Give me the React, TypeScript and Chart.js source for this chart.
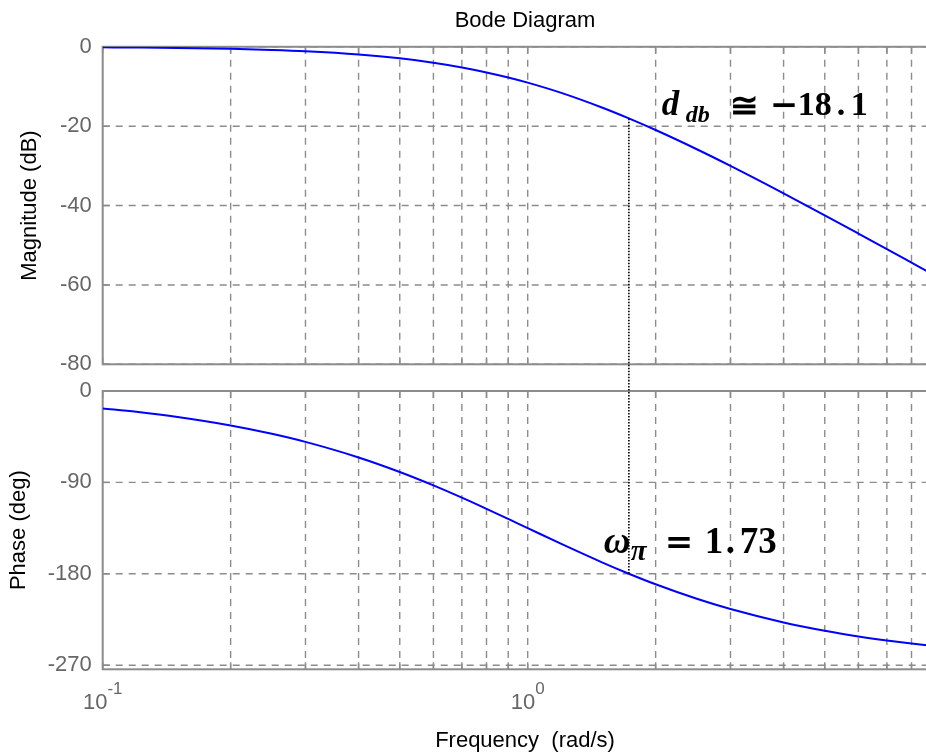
import React, { useEffect, useRef } from 'react';
import { Chart, registerables } from 'chart.js';

Chart.register(...registerables);

// ---- data ----
const FREQ = [0.1, 0.12, 0.15, 0.2, 0.25, 0.3, 0.4, 0.5, 0.6, 0.7, 0.8, 0.9, 1, 1.2, 1.5, 1.73, 2, 2.5, 3, 4, 5, 6, 7, 8, 9, 10];
const MAG_DB = [-0.13, -0.19, -0.29, -0.51, -0.79, -1.12, -1.93, -2.91, -4.01, -5.2, -6.45, -7.73, -9.03, -11.62, -15.36, -18.04, -20.97, -25.81, -30, -36.91, -42.45, -47.05, -50.97, -54.39, -57.41, -60.13];
const PHASE_DEG = [-17.13, -20.53, -25.59, -33.93, -42.11, -50.1, -65.4, -79.7, -92.89, -104.98, -115.98, -125.96, -135, -150.58, -168.93, -179.9, -190.3, -204.6, -214.7, -227.89, -236.07, -241.61, -245.61, -248.63, -250.98, -252.87];

const FREQ_GRID = [0.1, 0.2, 0.3, 0.4, 0.5, 0.6, 0.7, 0.8, 0.9, 1, 2, 3, 4, 5, 6, 7, 8, 9, 10];
const FREQ_LABEL_VALUES = [0.1, 1, 10];
const FREQ_LABEL_BASES = ['10', '10', '10'];
const FREQ_LABEL_EXPONENTS = ['-1', '0', '1'];

const MAG_TICKS = [0, -20, -40, -60, -80];
const PHASE_TICKS = [0, -90, -180, -270];

const MARK_FREQ = 1.73;
const MARK_MAG = -18.1;
const MARK_PHASE = -180;

const TITLE = 'Bode Diagram';
const MAG_TITLE = 'Magnitude (dB)';
const PHASE_TITLE = 'Phase (deg)';
const X_TITLE = 'Frequency  (rad/s)';

// ---- styles ----
const SANS = '"Liberation Sans", Arial, sans-serif';
const TICK_COLOR = '#666666';
const GRID_COLOR = '#8c8c8c';
const BORDER_COLOR = '#8c8c8c';
const LINE_COLOR = '#0000ff';
const TICK_LEN = 7;

type Piece = { text: string; font: string; dx: number; dy: number };

const MAG_NOTE: Piece[] = [
  { text: 'd', font: 'bold italic 35px "Liberation Serif"', dx: 33, dy: -3.6 },
  { text: 'db', font: 'bold italic 24px "Liberation Serif"', dx: 57, dy: 3 },
  { text: '\u2245', font: 'bold 34px "DejaVu Serif"', dx: 101, dy: -2 },
  { text: '\u2212', font: 'bold 34px "DejaVu Serif"', dx: 141, dy: -2.6 },
  { text: '18', font: 'bold 34px "Liberation Serif"', dx: 169, dy: -3.6 },
  { text: '.', font: 'bold 34px "Liberation Serif"', dx: 208, dy: -3.6 },
  { text: '1', font: 'bold 34px "Liberation Serif"', dx: 222, dy: -3.6 },
];

const PHASE_NOTE: Piece[] = [
  { text: '\u03c9', font: 'bold italic 37px "Liberation Serif"', dx: -25, dy: -20.6 },
  { text: '\u03c0', font: 'bold italic 29px "Liberation Serif"', dx: 2, dy: -14 },
  { text: '=', font: 'bold 34px "DejaVu Serif"', dx: 36, dy: -21.2 },
  { text: '1', font: 'bold 37px "Liberation Serif"', dx: 76, dy: -20.6 },
  { text: '.', font: 'bold 37px "Liberation Serif"', dx: 97, dy: -20.6 },
  { text: '73', font: 'bold 37px "Liberation Serif"', dx: 111, dy: -20.6 },
];

const CANVAS_W = 980;
const TOP_H = 380;
const BOT_H = 376;

function line(ctx: CanvasRenderingContext2D, x1: number, y1: number, x2: number, y2: number) {
  ctx.beginPath();
  ctx.moveTo(x1, y1);
  ctx.lineTo(x2, y2);
  ctx.stroke();
}

function makePlugin(kind: 'mag' | 'phase') {
  return {
    id: 'bode-' + kind,
    beforeDatasetsDraw(chart: any) {
      const { ctx, chartArea: a, scales } = chart;
      const xs = scales.x;
      const ys = scales.y;
      const yTicks = kind === 'mag' ? MAG_TICKS : PHASE_TICKS;
      ctx.save();
      // dashed grid
      ctx.strokeStyle = GRID_COLOR;
      ctx.lineWidth = 1.4;
      ctx.setLineDash([7, 6]);
      for (const f of FREQ_GRID) {
        const px = xs.getPixelForValue(f);
        if (px <= a.left + 1 || px >= a.right - 1) continue;
        line(ctx, px, a.top, px, a.bottom);
      }
      for (const v of yTicks) {
        const py = ys.getPixelForValue(v);
        line(ctx, a.left, py, a.right, py);
      }
      ctx.setLineDash([]);
      // tick marks
      ctx.strokeStyle = BORDER_COLOR;
      ctx.lineWidth = 1.5;
      for (const f of FREQ_GRID) {
        const px = xs.getPixelForValue(f);
        line(ctx, px, a.top, px, a.top + TICK_LEN);
        line(ctx, px, a.bottom, px, a.bottom - TICK_LEN);
      }
      for (const v of yTicks) {
        const py = ys.getPixelForValue(v);
        line(ctx, a.left, py, a.left + TICK_LEN, py);
        line(ctx, a.right, py, a.right - TICK_LEN, py);
      }
      // box
      ctx.lineWidth = 2;
      ctx.strokeRect(a.left, a.top, a.right - a.left, a.bottom - a.top);
      ctx.restore();
    },
    afterDatasetsDraw(chart: any) {
      const { ctx, chartArea: a, scales } = chart;
      const xs = scales.x;
      const ys = scales.y;
      const mx = xs.getPixelForValue(MARK_FREQ);
      ctx.save();
      // dotted marker line
      ctx.strokeStyle = '#000';
      ctx.lineWidth = 1.6;
      ctx.setLineDash([1.5, 1.5]);
      if (kind === 'mag') {
        line(ctx, mx, ys.getPixelForValue(MARK_MAG), mx, chart.height);
      } else {
        line(ctx, mx, 0, mx, ys.getPixelForValue(MARK_PHASE));
      }
      ctx.setLineDash([]);
      // annotation
      const my = ys.getPixelForValue(kind === 'mag' ? MARK_MAG : MARK_PHASE);
      ctx.fillStyle = '#000';
      ctx.textAlign = 'left';
      ctx.textBaseline = 'alphabetic';
      for (const p of kind === 'mag' ? MAG_NOTE : PHASE_NOTE) {
        ctx.font = p.font;
        ctx.fillText(p.text, mx + p.dx, my + p.dy);
      }
      // titles
      const cy = (a.top + a.bottom) / 2;
      ctx.fillStyle = '#000';
      ctx.font = '22px ' + SANS;
      if (kind === 'mag') {
        ctx.textAlign = 'center';
        ctx.fillText(TITLE, 525, 27);
        ctx.save();
        ctx.translate(30, cy);
        ctx.rotate(-Math.PI / 2);
        ctx.textBaseline = 'middle';
        ctx.fillText(MAG_TITLE, 0, 0);
        ctx.restore();
      } else {
        ctx.save();
        ctx.translate(18.5, cy);
        ctx.rotate(-Math.PI / 2);
        ctx.textAlign = 'center';
        ctx.textBaseline = 'middle';
        ctx.fillText(PHASE_TITLE, 0, 0);
        ctx.restore();
        ctx.textAlign = 'center';
        ctx.textBaseline = 'alphabetic';
        ctx.fillText(X_TITLE, 525, a.bottom + 78);
        // x tick labels with superscripts
        ctx.fillStyle = TICK_COLOR;
        ctx.textAlign = 'left';
        FREQ_LABEL_VALUES.forEach((v, i) => {
          const px = xs.getPixelForValue(v);
          ctx.font = '22px ' + SANS;
          const wb = ctx.measureText(FREQ_LABEL_BASES[i]).width;
          ctx.font = '17px ' + SANS;
          const we = ctx.measureText(FREQ_LABEL_EXPONENTS[i]).width;
          const sx = px - (wb + we) / 2;
          ctx.font = '22px ' + SANS;
          ctx.fillText(FREQ_LABEL_BASES[i], sx, a.bottom + 40);
          ctx.font = '17px ' + SANS;
          ctx.fillText(FREQ_LABEL_EXPONENTS[i], sx + wb, a.bottom + 24.5);
        });
      }
      ctx.restore();
    },
  };
}

function makeConfig(kind: 'mag' | 'phase'): any {
  const values = kind === 'mag' ? MAG_DB : PHASE_DEG;
  const yTicks = kind === 'mag' ? MAG_TICKS : PHASE_TICKS;
  const padding = kind === 'mag'
    ? { left: 0, right: 27.3, top: 46.8, bottom: 15.7 }
    : { left: 0, right: 27.3, top: 11, bottom: 86.7 };
  return {
    type: 'line',
    data: {
      datasets: [
        {
          data: FREQ.map((f, i) => ({ x: f, y: values[i] })),
          borderColor: LINE_COLOR,
          borderWidth: 2,
          pointRadius: 0,
          fill: false,
          cubicInterpolationMode: 'monotone',
        },
      ],
    },
    options: {
      responsive: false,
      animation: false,
      devicePixelRatio: 1,
      layout: { padding },
      plugins: { legend: { display: false }, tooltip: { enabled: false }, title: { display: false } },
      scales: {
        x: {
          type: 'logarithmic',
          min: 0.1,
          max: 10,
          grid: { display: false, drawTicks: false },
          border: { display: false },
          ticks: { display: false },
          afterBuildTicks: (s: any) => {
            s.ticks = FREQ_GRID.map((v) => ({ value: v }));
          },
          afterFit: (s: any) => {
            s.height = 0;
            s.paddingLeft = 0;
            s.paddingRight = 0;
          },
        },
        y: {
          type: 'linear',
          min: kind === 'mag' ? -80 : -274,
          max: 0,
          grid: { display: false, drawTicks: false },
          border: { display: false },
          ticks: {
            color: TICK_COLOR,
            font: { family: SANS, size: 22 },
            padding: 11,
            callback: (v: any) => String(v),
          },
          afterBuildTicks: (s: any) => {
            s.ticks = yTicks.map((v) => ({ value: v }));
          },
          afterFit: (s: any) => {
            s.width = 102.7;
            s.paddingTop = 0;
            s.paddingBottom = 0;
          },
        },
      },
    },
    plugins: [makePlugin(kind)],
  };
}

export default function App() {
  const magRef = useRef<HTMLCanvasElement>(null);
  const phRef = useRef<HTMLCanvasElement>(null);
  useEffect(() => {
    const c1 = new Chart(magRef.current as HTMLCanvasElement, makeConfig('mag'));
    const c2 = new Chart(phRef.current as HTMLCanvasElement, makeConfig('phase'));
    return () => {
      c1.destroy();
      c2.destroy();
    };
  }, []);
  return (
    <div style={{ position: 'fixed', left: 0, top: 0, width: 926, height: 756, overflow: 'hidden', background: '#fff' }}>
      <canvas
        ref={magRef}
        width={CANVAS_W}
        height={TOP_H}
        style={{ position: 'absolute', left: 0, top: 0, width: CANVAS_W, height: TOP_H }}
      />
      <canvas
        ref={phRef}
        width={CANVAS_W}
        height={BOT_H}
        style={{ position: 'absolute', left: 0, top: TOP_H, width: CANVAS_W, height: BOT_H }}
      />
    </div>
  );
}
